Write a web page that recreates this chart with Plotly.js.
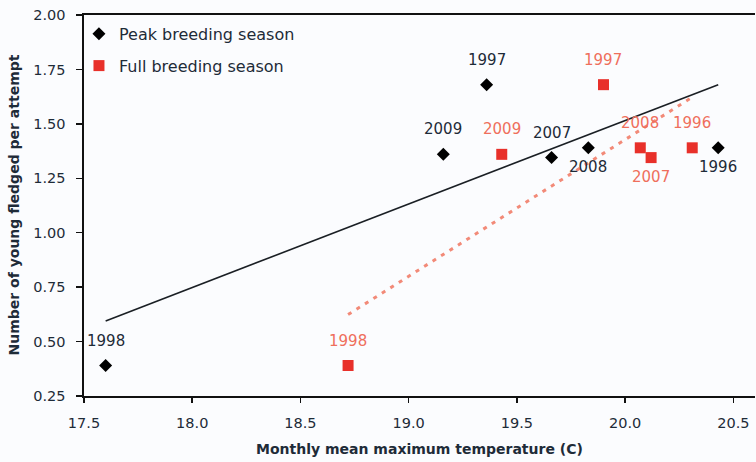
<!DOCTYPE html>
<html>
<head>
<meta charset="utf-8">
<script src="https://cdn.plot.ly/plotly-3.0.1.min.js"></script>
<style>html,body{margin:0;padding:0;background:#fbfcfe;}#chart{width:756px;height:462px;}</style>
</head>
<body>
<div id="chart"></div>
<script>
// Peak breeding season
const peakYears = ["1998", "1997", "2009", "2007", "2008", "1996"];
const peakTemp = [17.60, 19.36, 19.16, 19.66, 19.83, 20.43];
const peakYoung = [0.39, 1.68, 1.36, 1.345, 1.39, 1.39];
const peakLabelSide = ["above", "above", "above", "above", "below", "below"];

// Full breeding season
const fullYears = ["1998", "1997", "2009", "2008", "2007", "1996"];
const fullTemp = [18.72, 19.90, 19.43, 20.07, 20.12, 20.31];
const fullYoung = [0.39, 1.68, 1.36, 1.39, 1.345, 1.39];
const fullLabelSide = ["above", "above", "above", "above", "below", "above"];

// Trend lines (endpoints)
const peakTrendX = [17.60, 20.43];
const peakTrendY = [0.595, 1.68];
const fullTrendX = [18.72, 20.30];
const fullTrendY = [0.624, 1.616];

const xTicks = [17.5, 18.0, 18.5, 19.0, 19.5, 20.0, 20.5];
const yTicks = [0.25, 0.50, 0.75, 1.00, 1.25, 1.50, 1.75, 2.00];

const FONT = "'DejaVu Sans', 'Open Sans', sans-serif";
const DARK = "#1e2b38";
const RED = "#e8302a";
const RED_LABEL = "#ef6f5c";

const traces = [
  {
    x: peakTrendX, y: peakTrendY, mode: "lines", showlegend: false, hoverinfo: "skip",
    line: {color: "#1a1f24", width: 1.6}
  },
  {
    x: fullTrendX, y: fullTrendY, mode: "lines", showlegend: false, hoverinfo: "skip",
    line: {color: "#f28a78", width: 3, dash: "4px,6px"}
  },
  {
    x: peakTemp, y: peakYoung, mode: "markers", name: "Peak breeding season",
    marker: {symbol: "diamond", size: 10, color: "#000000"},
    legendgroup: "a"
  },
  {
    x: fullTemp, y: fullYoung, mode: "markers", name: "Full breeding season",
    marker: {symbol: "square", size: 11, color: RED},
    legendgroup: "b"
  }
];

function labelAnnotations(xs, ys, texts, sides, color) {
  return texts.map((t, i) => ({
    x: xs[i], y: ys[i], xref: "x", yref: "y", text: t, showarrow: false,
    xanchor: "center", yanchor: "middle",
    yshift: sides[i] === "above" ? 25 : -19,
    font: {family: FONT, size: 15, color: color}
  }));
}

const annotations = [
  ...labelAnnotations(peakTemp, peakYoung, peakYears, peakLabelSide, DARK),
  ...labelAnnotations(fullTemp, fullYoung, fullYears, fullLabelSide, RED_LABEL),
  {
    text: "Monthly mean maximum temperature (C)", xref: "paper", yref: "paper",
    x: 0.5, y: 0, yshift: -53, xanchor: "center", yanchor: "middle", showarrow: false,
    font: {family: FONT, size: 14, color: DARK, weight: "bold"}
  },
  {
    text: "Number of young fledged per attempt", xref: "paper", yref: "paper",
    x: 0, xshift: -71, y: 0.5, xanchor: "center", yanchor: "middle", textangle: -90,
    showarrow: false, font: {family: FONT, size: 14, color: DARK, weight: "bold"}
  }
];

const layout = {
  width: 756, height: 462,
  margin: {l: 84, r: 1, t: 15, b: 66},
  paper_bgcolor: "#fbfcfe", plot_bgcolor: "#fbfcfe",
  font: {family: FONT, color: DARK, size: 14},
  showlegend: true,
  legend: {
    x: -0.0075, y: 0.995, xanchor: "left", yanchor: "top",
    bgcolor: "rgba(0,0,0,0)", font: {family: FONT, size: 16, color: DARK},
    traceorder: "grouped", tracegroupgap: 8, itemwidth: 30
  },
  xaxis: {
    range: [17.5, 20.6], tickmode: "array", tickvals: xTicks, tickformat: ".1f",
    showgrid: false, zeroline: false, showline: true, linecolor: "#111", linewidth: 1.6,
    mirror: true, ticks: "outside", ticklen: 5, tickcolor: "#111", tickwidth: 1.5,
    ticklabelstandoff: 8, tickfont: {family: FONT, size: 14.5, color: DARK}
  },
  yaxis: {
    range: [0.25, 2.0], tickmode: "array", tickvals: yTicks, tickformat: ".2f",
    showgrid: false, zeroline: false, showline: true, linecolor: "#111", linewidth: 1.6,
    ticks: "outside", ticklen: 6, tickcolor: "#111", tickwidth: 1.5,
    ticklabelstandoff: 8, tickfont: {family: FONT, size: 14.5, color: DARK}
  },
  annotations: annotations
};

Plotly.newPlot("chart", traces, layout, {displayModeBar: false, staticPlot: true});
</script>
</body>
</html>
